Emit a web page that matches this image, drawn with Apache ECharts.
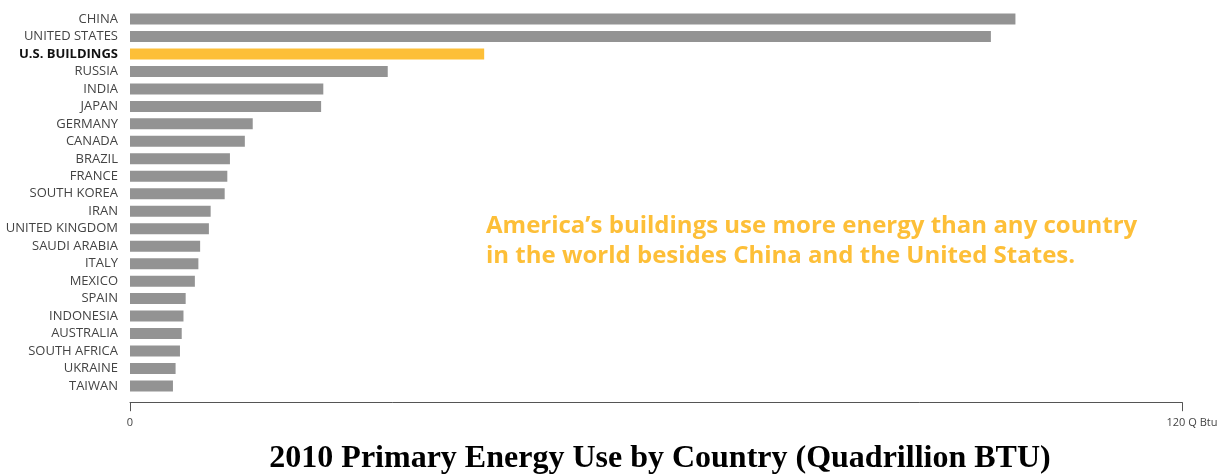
<!DOCTYPE html>
<html>
<head>
<meta charset="utf-8">
<script src="https://cdn.jsdelivr.net/npm/echarts@6/dist/echarts.min.js"></script>
<style>html,body{margin:0;padding:0;background:#fff}#c{width:1228px;height:475px}</style>
</head>
<body>
<div id="c"></div>
<script>
const categories = ['CHINA','UNITED STATES','U.S. BUILDINGS','RUSSIA','INDIA','JAPAN','GERMANY','CANADA','BRAZIL','FRANCE','SOUTH KOREA','IRAN','UNITED KINGDOM','SAUDI ARABIA','ITALY','MEXICO','SPAIN','INDONESIA','AUSTRALIA','SOUTH AFRICA','UKRAINE','TAIWAN'];
const values = [101.0, 98.2, 40.4, 29.4, 22.05, 21.8, 14.0, 13.1, 11.4, 11.1, 10.8, 9.2, 9.0, 8.0, 7.8, 7.4, 6.35, 6.1, 5.9, 5.7, 5.2, 4.9];
const highlight = 'U.S. BUILDINGS';
const axisMax = 120;
const axisUnit = 'Q Btu';
const annotation = ['America\u2019s buildings use more energy than any country', 'in the world besides China and the United States.'];
const titleText = '2010 Primary Energy Use by Country (Quadrillion BTU)';

const chart = echarts.init(document.getElementById('c'), null, {renderer:'canvas'});
chart.setOption({
  animation: false,
  grid: {left: 130, right: 46, top: 10.3, bottom: 80.3, containLabel: false},
  xAxis: {
    type: 'value', min: 0, max: axisMax, interval: axisMax, offset: 7.5,
    axisLine: {show: true, lineStyle: {color: '#555', width: 1}},
    axisTick: {show: true, length: 9, lineStyle: {color: '#555', width: 1}},
    splitLine: {show: false},
    axisLabel: {
      margin: 15, fontFamily: 'Open Sans', fontSize: 11, color: '#444',
      formatter: v => v === axisMax ? '{u|' + v + ' ' + axisUnit + '}' : String(v),
      rich: {u: {fontFamily: 'Open Sans', fontSize: 11, color: '#444', padding: [0,0,0,20]}}
    }
  },
  yAxis: {
    type: 'category', data: categories, inverse: true,
    axisLine: {show: false}, axisTick: {show: false},
    axisLabel: {
      margin: 12, fontFamily: 'Open Sans', fontSize: 13, color: '#444',
      formatter: v => v === highlight ? '{b|' + v + '}' : v,
      rich: {b: {fontFamily: 'Open Sans', fontSize: 13, fontWeight: 'bold', color: '#111'}}
    }
  },
  series: [{
    type: 'bar', barWidth: 11,
    data: values.map((v, i) => ({value: v, itemStyle: {color: categories[i] === highlight ? '#FDBF38' : '#939393'}}))
  }],
  graphic: [
    {type: 'text', x: 486, y: 226, style: {text: annotation[0], font: 'bold 24px "Open Sans"', fill: '#FDBF38', verticalAlign: 'middle'}},
    {type: 'text', x: 486, y: 256, style: {text: annotation[1], font: 'bold 24px "Open Sans"', fill: '#FDBF38', verticalAlign: 'middle'}},
    {type: 'text', x: 660, y: 459, style: {text: titleText, font: 'bold 32px "Liberation Serif"', fill: '#000', align: 'center', verticalAlign: 'middle'}}
  ]
});
</script>
</body>
</html>
